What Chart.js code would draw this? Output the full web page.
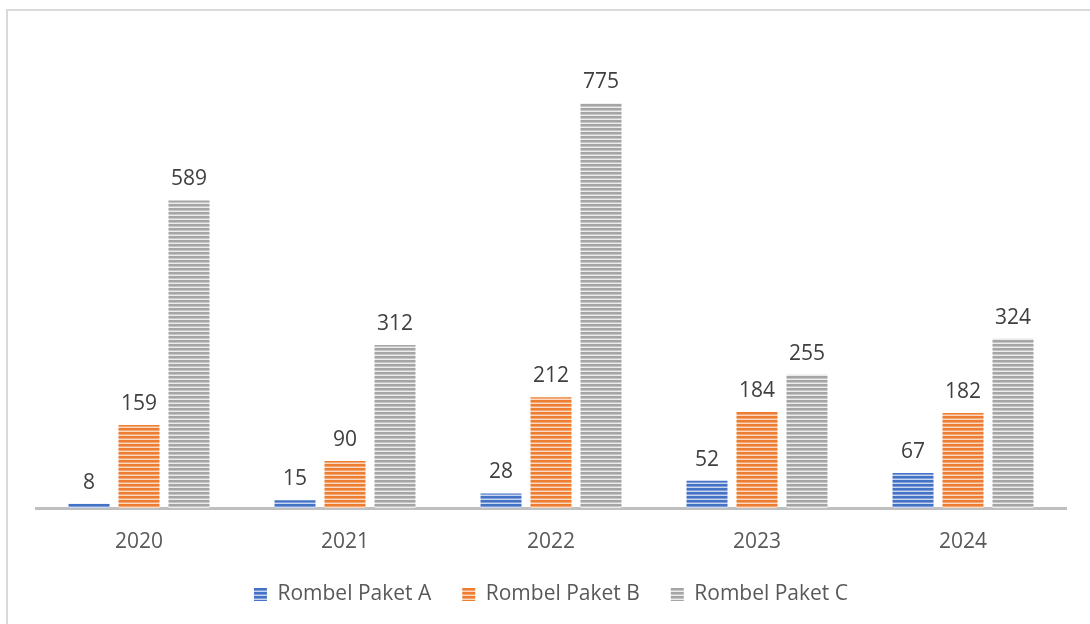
<!DOCTYPE html>
<html>
<head>
<meta charset="utf-8">
<script src="https://cdn.jsdelivr.net/npm/chart.js@4.4.0/dist/chart.umd.min.js"></script>
<style>
  html, body { margin: 0; padding: 0; background: #fff; }
  #wrap { width: 1090px; height: 624px; position: relative; }
</style>
</head>
<body>
<div id="wrap"><canvas id="chart"></canvas></div>
<script>
const years = ['2020', '2021', '2022', '2023', '2024'];
const paketA = [8, 15, 28, 52, 67];
const paketB = [159, 90, 212, 184, 182];
const paketC = [589, 312, 775, 255, 324];
const seriesNames = ['Rombel Paket A', 'Rombel Paket B', 'Rombel Paket C'];

function stripePattern(base, light, mid) {
    const c = document.createElement('canvas');
    c.width = 4;
    c.height = 4;
    const g = c.getContext('2d');
    g.fillStyle = base; g.fillRect(0, 0, 4, 2);
    g.fillStyle = mid; g.fillRect(0, 2, 4, 1);
    g.fillStyle = light; g.fillRect(0, 3, 4, 1);
    return g.createPattern(c, 'repeat');
}

const fills = [
    stripePattern('#4472C4', '#c9d6ef', '#7f9ed8'),
    stripePattern('#ED7D31', '#fad9c3', '#f3a876'),
    stripePattern('#A5A5A5', '#ececec', '#c6c6c6')
];

const valueLabels = {
    id: 'valueLabels',
    afterDatasetsDraw(chart) {
        const ctx = chart.ctx;
        ctx.save();
        ctx.font = '21px "Open Sans", sans-serif';
        ctx.fillStyle = '#404040';
        ctx.textAlign = 'center';
        ctx.textBaseline = 'middle';
        chart.data.datasets.forEach((ds, i) => {
            chart.getDatasetMeta(i).data.forEach((bar, j) => {
                ctx.fillText(String(ds.data[j]), bar.x, bar.y - 21);
            });
        });
        ctx.restore();
    }
};

const frame = {
    id: 'frame',
    beforeDraw(chart) {
        const ctx = chart.ctx;
        ctx.save();
        ctx.strokeStyle = '#d9d9d9';
        ctx.lineWidth = 2;
        ctx.beginPath();
        ctx.moveTo(7, 624);
        ctx.lineTo(7, 10);
        ctx.lineTo(1090, 10);
        ctx.stroke();
        ctx.restore();
    }
};

new Chart(document.getElementById('chart'), {
    type: 'bar',
    data: {
        labels: years,
        datasets: [paketA, paketB, paketC].map((d, i) => ({
            label: seriesNames[i],
            data: d,
            backgroundColor: fills[i],
            borderWidth: 0,
            categoryPercentage: 0.728,
            barPercentage: 0.82
        }))
    },
    options: {
        responsive: true,
        maintainAspectRatio: false,
        animation: false,
        layout: { padding: { left: 36, right: 24, top: 38, bottom: 9 } },
        plugins: {
            legend: {
                position: 'bottom',
                labels: {
                    font: { family: '"Open Sans", sans-serif', size: 21 },
                    color: '#595959',
                    boxWidth: 13,
                    boxHeight: 13,
                    padding: 31
                }
            },
            tooltip: { enabled: false }
        },
        scales: {
            y: {
                display: false,
                min: 0,
                max: 900
            },
            x: {
                grid: { display: false },
                border: { display: true, color: '#bfbfbf', width: 3 },
                ticks: {
                    font: { family: '"Open Sans", sans-serif', size: 21 },
                    color: '#595959',
                    padding: 13
                },
                afterFit(scale) {
                    scale.height = 45;
                }
            }
        }
    },
    plugins: [valueLabels, frame]
});
</script>
</body>
</html>
